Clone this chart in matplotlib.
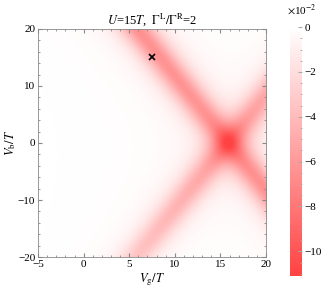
import numpy as np
import matplotlib
matplotlib.use("Agg")
from matplotlib import pyplot as plt
from matplotlib.colors import LinearSegmentedColormap
from matplotlib.ticker import MultipleLocator

plt.rcParams['font.family'] = ['Liberation Serif', 'DejaVu Serif']
plt.rcParams['mathtext.fontset'] = 'stix'

# plot window (units of T)
vg_range = [-5, 20]
vb_range = [-20, 20]

# resonance lines Vb = slope * (Vg - vg0)
vg0 = 15.8
band_slopes = [-2.0, 2.0]
# band strength (x10^-2) at these Vb values
band_vb = [-20, 0, 20]
band_amp = [[7.0, 6.0, 6.5],   # line running top-left -> bottom-right
            [3.5, 5.5, 4.5]]   # line running bottom-left -> top-right
band_width = 1.9

# marked point
mark_vg = [7.5]
mark_vb = [15]

cb_ticks = [0, -2, -4, -6, -8, -10]
vmin = -11.1

# build the map
vg = np.linspace(vg_range[0], vg_range[1], 400)
vb = np.linspace(vb_range[0], vb_range[1], 400)
VG, VB = np.meshgrid(vg, vb)
G = np.zeros_like(VG)
for s, amp in zip(band_slopes, band_amp):
    d = VG - (vg0 + VB / s)
    a = np.interp(VB, band_vb, amp)
    prof = 0.85 / np.cosh(d / band_width) ** 2 + 0.15 / (1 + (d / 3.0) ** 2)
    G -= a * prof

cmap = LinearSegmentedColormap.from_list('wr', ['#ffffff', '#ff4242'])
cmap_r = cmap.reversed()

fig = plt.figure(figsize=(3.32, 3.01), dpi=100)
ax = fig.add_axes([0.1145, 0.146, 0.687, 0.758])
im = ax.imshow(G, extent=[vg_range[0], vg_range[1], vb_range[0], vb_range[1]],
               origin='lower', aspect='auto', cmap=cmap_r, vmin=vmin, vmax=0,
               interpolation='bilinear')
ax.plot(mark_vg, mark_vb, 'x', color='black', ms=4, mew=1.2)

ax.set_xlim(vg_range)
ax.set_ylim(vb_range)
ax.xaxis.set_major_locator(MultipleLocator(5))
ax.xaxis.set_minor_locator(MultipleLocator(1))
ax.yaxis.set_major_locator(MultipleLocator(10))
ax.yaxis.set_minor_locator(MultipleLocator(2))
ax.tick_params(which='both', direction='in', top=True, right=True,
               color='#888888', labelsize=8, pad=2)
ax.tick_params(which='major', length=3)
ax.tick_params(which='minor', length=1.5)
for sp in ax.spines.values():
    sp.set_color('#888888')
    sp.set_linewidth(0.6)

ax.set_xlabel('$V_\\mathrm{g}/T$', fontsize=9, labelpad=2)
ax.set_ylabel('$V_\\mathrm{b}/T$', fontsize=9, labelpad=0)
ax.set_title('$U$=15$T$,  $\\Gamma^\\mathrm{L}/\\Gamma^\\mathrm{R}$=2', fontsize=9, pad=4)

cax = fig.add_axes([0.873, 0.083, 0.036, 0.827])
cb = fig.colorbar(im, cax=cax, ticks=cb_ticks)
cb.outline.set_visible(False)
cax.yaxis.set_minor_locator(MultipleLocator(0.5))
cax.tick_params(which='both', direction='in', color='#aaaaaa', labelsize=8, pad=2)
cax.tick_params(which='major', length=3)
cax.tick_params(which='minor', length=1.5)
cax.set_yticklabels(['0', '\u22122', '\u22124', '\u22126', '\u22128', '\u221210'])
fig.text(0.865, 0.955, '$\\times$10$^{-2}$', fontsize=8)

fig.savefig('out.png', dpi=100)
